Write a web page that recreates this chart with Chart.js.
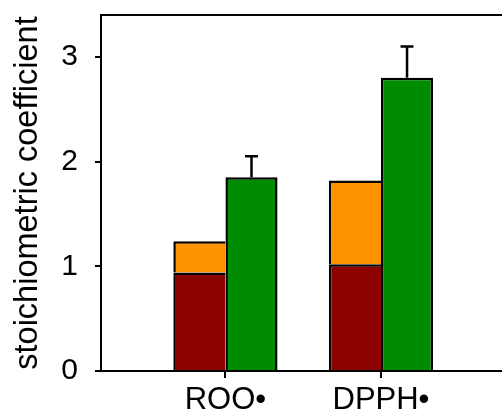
<!DOCTYPE html>
<html>
<head>
<meta charset="utf-8">
<script src="https://cdn.jsdelivr.net/npm/chart.js@4.4.0/dist/chart.umd.min.js"></script>
<style>
  html, body { margin: 0; padding: 0; background: #fff; overflow: hidden; }
</style>
</head>
<body>
<canvas id="myChart" width="502" height="411"></canvas>
<script>
// values
const categories = ['ROO\u2022', 'DPPH\u2022'];
const catPos = [1, 2];
const lowerPart = [0.94, 1.02];   // dark red
const upperPart = [0.30, 0.80];   // orange, stacked on the red
const totalVal = [1.85, 2.80];    // green
const totalErr = [0.20, 0.30];    // upper error only
const yTicks = [0, 1, 2, 3];

const FONT = "'Liberation Sans', Arial, sans-serif";
const BW = 2.5;

function points(arr) {
  return arr.map((v, i) => ({x: catPos[i], y: v}));
}

// error bars on the green bars + top frame line
const extras = {
  id: 'extras',
  afterDatasetsDraw(chart) {
    const c = chart.ctx, y = chart.scales.y, a = chart.chartArea;
    c.save();
    c.strokeStyle = '#000';
    c.lineWidth = 2.5;
    chart.getDatasetMeta(2).data.forEach((bar, i) => {
      const top = y.getPixelForValue(totalVal[i] + totalErr[i]);
      c.beginPath();
      c.moveTo(bar.x, bar.y);
      c.lineTo(bar.x, top);
      c.moveTo(bar.x - 6.5, top);
      c.lineTo(bar.x + 6.5, top);
      c.stroke();
    });
    c.lineWidth = 2;
    c.beginPath();
    c.moveTo(a.left - 1, a.top);
    c.lineTo(chart.width, a.top);
    c.stroke();
    c.restore();
  }
};

var ctx = document.getElementById('myChart').getContext('2d');
var myChart = new Chart(ctx, {
  type: 'bar',
  data: {
    datasets: [{
      data: points(lowerPart),
      backgroundColor: '#8c0000',
      borderColor: '#000',
      borderWidth: {top: BW, left: BW, right: 0, bottom: 0},
      borderSkipped: false,
      stack: 'a'
    }, {
      data: points(upperPart),
      backgroundColor: '#ff9400',
      borderColor: '#000',
      borderWidth: {top: BW, left: BW, right: 0, bottom: 0},
      borderSkipped: false,
      stack: 'a'
    }, {
      data: points(totalVal),
      backgroundColor: '#008c00',
      borderColor: '#000',
      borderWidth: {top: BW, left: BW, right: BW, bottom: 0},
      borderSkipped: false,
      stack: 'b'
    }]
  },
  options: {
    responsive: false,
    animation: false,
    categoryPercentage: 0.67,
    barPercentage: 1,
    layout: { padding: {top: 15, left: 0, right: 0, bottom: 0} },
    plugins: { legend: {display: false}, tooltip: {enabled: false} },
    scales: {
      x: {
        type: 'linear',
        offset: false,
        min: 0.2,
        max: 2.778,
        afterBuildTicks: s => { s.ticks = catPos.map(v => ({value: v})); },
        ticks: {
          callback: (v, i) => categories[i],
          font: {family: FONT, size: 31},
          color: '#000',
          padding: 4,
          autoSkip: false,
          maxRotation: 0
        },
        grid: {offset: false, drawOnChartArea: false, drawTicks: true, tickLength: 7, color: '#000', lineWidth: 2},
        border: {color: '#000', width: 2},
        afterFit: s => { s.height = 40; s.paddingLeft = 0; s.paddingRight = 0; }
      },
      y: {
        min: 0,
        max: 3.4,
        stacked: true,
        afterBuildTicks: s => { s.ticks = yTicks.map(v => ({value: v})); },
        ticks: {font: {family: FONT, size: 30}, color: '#000', padding: 17},
        grid: {drawOnChartArea: false, drawTicks: true, tickLength: 6, color: '#000', lineWidth: 2},
        border: {color: '#000', width: 2},
        title: {
          display: true,
          text: 'stoichiometric coefficient',
          font: {family: FONT, size: 32.5},
          color: '#000',
          padding: {top: 9, bottom: 0}
        },
        afterFit: s => { s.width = 101; s.paddingTop = 0; s.paddingBottom = 0; }
      }
    }
  },
  plugins: [extras]
});
</script>
</body>
</html>
